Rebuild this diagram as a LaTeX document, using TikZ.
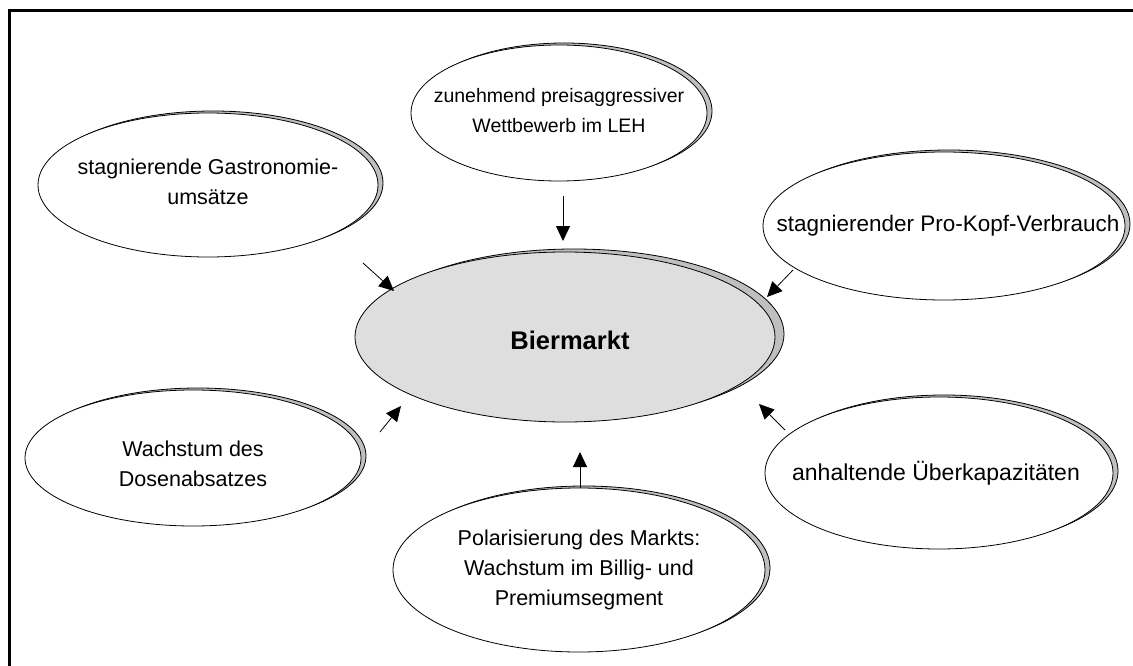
\documentclass[tikz,border=0pt]{standalone}
\usepackage{fontspec}
\setmainfont{Liberation Sans}
\usetikzlibrary{shapes.geometric,shadows,arrows.meta}
\begin{document}
\begin{tikzpicture}[x=1pt,y=-1pt,
  txt/.style={font=\fontsize{21.5}{30}\selectfont, align=center, inner sep=0pt},
  ell/.style={ellipse, draw=black, line width=0.8pt, fill=white, inner sep=0pt,
    copy shadow={shadow xshift=5pt, shadow yshift=2pt, fill=black!25, draw=black, line width=0.8pt}},
  mainell/.style={ellipse, draw=black, line width=0.8pt, fill=black!13, inner sep=0pt,
    copy shadow={shadow xshift=9pt, shadow yshift=3pt, fill=black!25, draw=black, line width=0.8pt}},
  arr/.style={line width=0.8pt, -{Triangle[length=15pt,width=14pt]}}]
\useasboundingbox (0,0) rectangle (1133,666);
\fill[white] (0,0) rectangle (1133,666);
\draw[line width=3pt] (9,670) -- (9,11) -- (1140,11);

\node[mainell, minimum width=420pt, minimum height=170pt] (c) at (565,337) {};
\node[txt, font=\fontsize{25.5}{30}\selectfont\bfseries] (ct) at ([xshift=5pt,yshift=-3pt]c) {Biermarkt};
\node[ell, minimum width=296pt, minimum height=136pt] (t) at (559,113) {};
\node[txt, font=\fontsize{19.5}{30}\selectfont] (tt) at ([yshift=2pt]t) {zunehmend preisaggressiver\\Wettbewerb im LEH};
\node[ell, minimum width=340pt, minimum height=144pt] (ul) at (208,185) {};
\node[txt] (ult) at ([yshift=3pt]ul) {stagnierende Gastronomie-\\umsätze};
\node[ell, minimum width=362pt, minimum height=148pt] (r) at (944,226) {};
\node[txt, font=\fontsize{22.5}{30}\selectfont] (rt) at ([xshift=4pt]r) {stagnierender Pro-Kopf-Verbrauch};
\node[ell, minimum width=336pt, minimum height=136pt] (ll) at (193,458) {};
\node[txt] (llt) at ([yshift=-6pt]ll) {Wachstum des\\Dosenabsatzes};
\node[ell, minimum width=348pt, minimum height=152pt] (lr) at (939,473) {};
\node[txt, font=\fontsize{23}{30}\selectfont] (lrt) at ([xshift=-3pt]lr) {anhaltende Überkapazitäten};
\node[ell, minimum width=372pt, minimum height=164pt] (b) at (579,570) {};
\node[txt] (bt) at (b) {Polarisierung des Markts:\\Wachstum im Billig- und\\Premiumsegment};

\coordinate (ta) at (563,196);
\coordinate (ula) at (363,263);
\coordinate (ra) at (793,270);
\coordinate (lla) at (380,432);
\coordinate (ba) at (580,488);
\coordinate (lra) at (785,430);
\draw[arr] (ta) -- (563,241);
\draw[arr] (ula) -- (394,291);
\draw[arr] (ra) -- (767,297);
\draw[arr] (lla) -- (401,406);
\draw[arr] (ba) -- (580,452);
\draw[arr] (lra) -- (759,404);
\end{tikzpicture}
\end{document}
